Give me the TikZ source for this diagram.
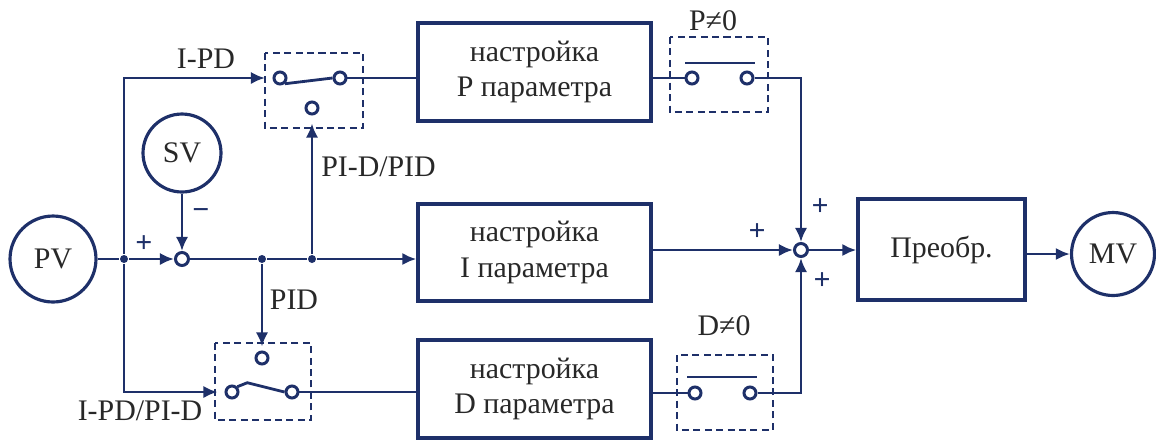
\documentclass[tikz,border=0pt]{standalone}
\usepackage{fontspec}
\setmainfont{Liberation Serif}
\usetikzlibrary{arrows.meta}
\definecolor{navy}{RGB}{30,48,105}
\definecolor{ink}{RGB}{40,40,40}

\begin{document}
\begin{tikzpicture}[x=0.02cm, y=-0.02cm,
        line width=1.6pt, draw=navy,
        >={Latex[length=8pt,width=7pt]},
        every node/.style={font=\fontsize{17}{20}\selectfont, text=ink},
        block/.style={draw=navy, line width=1.9pt, inner sep=0pt, align=center},
        varnode/.style={draw=navy, circle, line width=1.8pt, inner sep=0pt},
        term/.style={draw=navy, circle, line width=1.7pt, minimum size=0.24cm, inner sep=0pt},
        summ/.style={draw=navy, circle, line width=1.7pt, minimum size=0.26cm, inner sep=0pt},
        jdot/.style={circle, fill=navy, minimum size=0.16cm, inner sep=0pt},
        swframe/.style={draw=navy, line width=1.2pt, dash pattern=on 4pt off 2.5pt},
        sign/.style={text=navy, inner sep=0pt, font=\fontsize{17}{20}\selectfont\bfseries}]
        \useasboundingbox (0,0) rectangle (1156,441);

        % variables and blocks
        \node[varnode, minimum size=1.72cm] (pv) at (53,259) {PV};
        \node[varnode, minimum size=1.56cm] (sv) at (182,153) {SV};
        \node[varnode, minimum size=1.66cm] (mv) at (1113,254) {MV};
        \node[block, minimum width=4.66cm, minimum height=1.96cm] (pbox) at (534.5,72) {настройка\\P параметра};
        \node[block, minimum width=4.66cm, minimum height=1.94cm] (ibox) at (534.5,252.5) {настройка\\I параметра};
        \node[block, minimum width=4.66cm, minimum height=1.96cm] (dbox) at (534.5,389) {настройка\\D параметра};
        \node[block, minimum width=3.34cm, minimum height=2.02cm] (preobr) at (941.5,249.5) {Преобр.};

        % summing points and junctions
        \node[summ] (sum1) at (182,259) {};
        \node[summ] (sum2) at (801,250) {};
        \node[jdot] (j1) at (124,259) {};
        \node[jdot] (j2) at (262,259) {};
        \node[jdot] (j3) at (312,259) {};

        % switches
        \draw[swframe] (265,53) rectangle (363,128);
        \node[term] (usin) at (280,78) {};
        \node[term] (usout) at (340,78) {};
        \node[term] (usalt) at (312,108) {};
        \draw (usin.-50) -- (usout.west);

        \draw[swframe] (215,343) rectangle (311,420);
        \node[term] (lsin) at (232,392) {};
        \node[term] (lsout) at (292,392) {};
        \node[term] (lsalt) at (262,358) {};
        \draw (lsin.45) -- ++(10,-4) -- (lsout.west);

        \draw[swframe] (670,37) rectangle (768,112);
        \node[term] (pgate1) at (692,78) {};
        \node[term] (pgate2) at (747,78) {};
        \draw (685,63) -- (755,63);

        \draw[swframe] (677,355) rectangle (773,430);
        \node[term] (dgate1) at (695,393) {};
        \node[term] (dgate2) at (750,393) {};
        \draw (687,377) -- (757,377);

        % connectors
        \draw (pv) -- (j1);
        \draw[->] (j1) -- (sum1);
        \draw[->] (sv) -- (sum1);
        \draw (sum1) -- (j2) -- (j3);
        \draw[->] (j3) -- (ibox.west |- j3);
        \draw[->, shorten >=0.15cm] (j1) |- (usin);
        \draw[->, shorten >=0.14cm] (j1) |- (lsin);
        \draw[->, shorten >=0.16cm] (j3) -- (usalt);
        \draw[->, shorten >=0.08cm] (j2) -- (lsalt);
        \draw (usout) -- (usout -| pbox.west);
        \draw (lsout) -- (lsout -| dbox.west);
        \draw (pbox.east |- pgate1) -- (pgate1);
        \draw (dbox.east |- dgate1) -- (dgate1);
        \draw[->] (pgate2) -| (sum2);
        \draw[->] (dgate2) -| (sum2);
        \draw[->] (ibox.east |- sum2) -- (sum2);
        \draw[->] (sum2) -- (preobr.west |- sum2);
        \draw[->] (preobr.east |- mv) -- (mv);

        % labels
        \node (lipd) at (206,59) {I-PD};
        \node[anchor=west] (lpidalt) at (314,167) {PI-D/PID};
        \node (lpid) at (294,300) {PID};
        \node (lipdpid) at (140,411) {I-PD/PI-D};
        \node (lpgate) at (713,21) {P≠0};
        \node (ldgate) at (724,326) {D≠0};
        \node[sign] (s1) at (144,244) {+};
        \node[sign] (s2) at (201,214) {−};
        \node[sign] (s3) at (757,232) {+};
        \node[sign] (s4) at (820,207) {+};
        \node[sign] (s5) at (822,281) {+};
\end{tikzpicture}
\end{document}
